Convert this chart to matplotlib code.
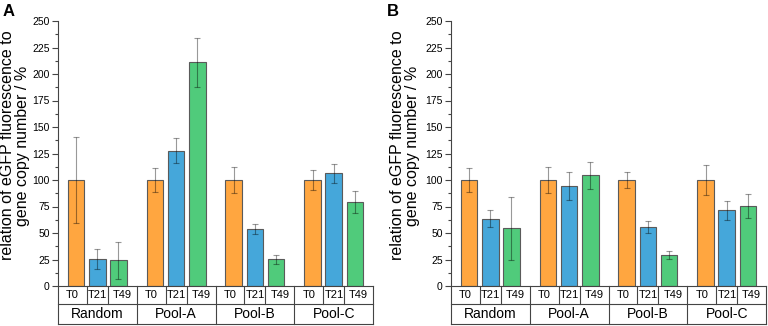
import matplotlib
matplotlib.use('Agg')
import matplotlib.pyplot as plt
import numpy as np
from matplotlib.ticker import MultipleLocator

plt.rcParams['font.family'] = ['Liberation Sans', 'DejaVu Sans']

groups = ['Random', 'Pool-A', 'Pool-B', 'Pool-C']
times = ['T0', 'T21', 'T49']
colors = ['#FFA640', '#45A7DA', '#50CB7B']

# panel A
a_mean = [[100, 25.6, 24.3], [100, 127.8, 211], [100, 53.9, 25.2], [100, 106.3, 79.2]]
a_err = [[41, 9.2, 17.3], [11.7, 11.8, 23.3], [12.5, 5.0, 4.1], [9.8, 9.0, 10.0]]
# panel B
b_mean = [[100, 63.4, 54.3], [100, 94, 104.4], [100, 55.8, 29.3], [100, 71.6, 75.7]]
b_err = [[11.7, 7.9, 29.6], [12.5, 13.3, 12.5], [7.9, 5.8, 3.8], [13.7, 9.0, 11.5]]

gap = 3.75
row1 = -0.068
row2 = -0.143
line_c = '#444444'


def draw(ax, means, errs, xlo, xhi, lab_x):
    for g in range(len(groups)):
        for j in range(len(times)):
            x = g * gap + j - 1
            ax.bar(x, means[g][j], 0.8, color=colors[j], edgecolor='#5a5a5a', linewidth=0.8, zorder=2)
            ax.errorbar(x, means[g][j], yerr=errs[g][j], fmt='none', ecolor=(0, 0, 0, 0.4),
                        elinewidth=0.8, capsize=2, capthick=0.8, zorder=3)
    ax.set_xlim(xlo, xhi)
    ax.set_ylim(0, 250)
    ax.set_xticks([])
    ax.yaxis.set_major_locator(MultipleLocator(25))
    ax.yaxis.set_minor_locator(MultipleLocator(12.5))
    ax.tick_params(axis='y', which='major', direction='out', length=4, width=0.8, labelsize=7.5, pad=2, color=line_c)
    ax.tick_params(axis='y', which='minor', direction='out', length=2, width=0.8, color=line_c)
    for s in ['top', 'right']:
        ax.spines[s].set_visible(False)
    for s in ['left', 'bottom']:
        ax.spines[s].set_color(line_c)
        ax.spines[s].set_linewidth(0.8)

    tr = ax.get_xaxis_transform()
    kw = dict(transform=tr, color=line_c, lw=0.8, clip_on=False)
    ax.plot([xlo, xhi], [row1, row1], **kw)
    ax.plot([xlo, xhi], [row2, row2], **kw)
    bounds = [xlo] + [g * gap + 1 + (gap - 2) / 2 for g in range(len(groups) - 1)] + [xhi]
    for b in bounds:
        ax.plot([b, b], [0, row2], **kw)
    for g in range(len(groups)):
        inner = [g * gap - 0.5, g * gap + 0.5]
        for b in inner:
            ax.plot([b, b], [0, row1], **kw)
        cells = [bounds[g]] + inner + [bounds[g + 1]]
        for j, t in enumerate(times):
            ax.text((cells[j] + cells[j + 1]) / 2, row1 / 2, t, transform=tr,
                    ha='center', va='center', fontsize=8)
        ax.text((bounds[g] + bounds[g + 1]) / 2, (row1 + row2) / 2, groups[g], transform=tr,
                ha='center', va='center', fontsize=10)

    ax.set_ylabel('relation of eGFP fluorescence to\ngene copy number / %', fontsize=11.5, linespacing=1.0)
    ax.yaxis.set_label_coords(lab_x, 0.53)


fig = plt.figure(figsize=(7.68, 3.26), dpi=100)
axA = fig.add_axes([58 / 768, 40 / 326, 315 / 768, 265 / 326])
axB = fig.add_axes([451 / 768, 40 / 326, 315 / 768, 265 / 326])

draw(axA, a_mean, a_err, -1.857, 13.107, -0.088)
draw(axB, b_mean, b_err, -1.857, 13.107, -0.10)

fig.text(3 / 768, 1 - 4 / 326, 'A', fontsize=12, fontweight='bold', ha='left', va='top')
fig.text(387 / 768, 1 - 4 / 326, 'B', fontsize=12, fontweight='bold', ha='left', va='top')

fig.savefig('out.png', dpi=100)
